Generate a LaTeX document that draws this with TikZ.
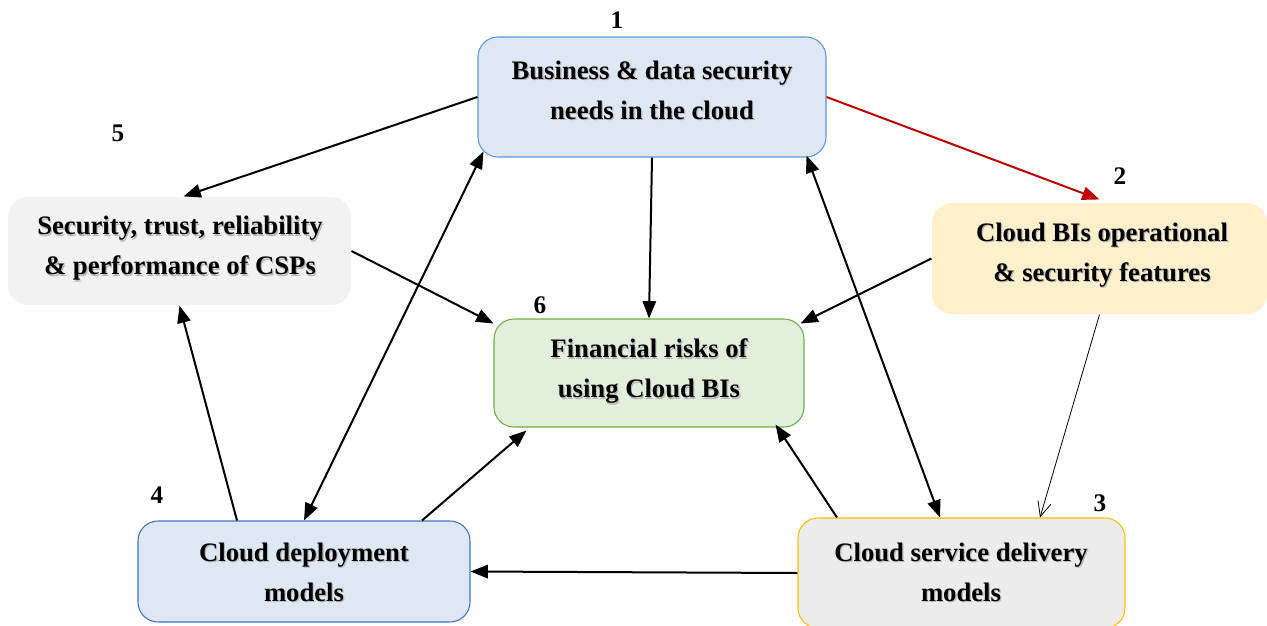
\documentclass[tikz,border=0pt]{standalone}
\usepackage{fontspec}
\setmainfont{Liberation Serif}
\usetikzlibrary{arrows.meta}

\definecolor{fillblue}{HTML}{DEE8F4}
\definecolor{lineblue}{HTML}{5B9BD5}
\definecolor{lineblueb}{HTML}{4472C4}
\definecolor{fillyellow}{HTML}{FFF0CC}
\definecolor{fillgreyA}{HTML}{F2F2F2}
\definecolor{fillgreyB}{HTML}{ECECEC}
\definecolor{lineorange}{HTML}{FFC000}
\definecolor{fillgreen}{HTML}{E2EFDA}
\definecolor{linegreen}{HTML}{70AD47}
\definecolor{arrowred}{HTML}{C00000}

% text with a soft grey drop shadow
\newcommand{\shd}[1]{\leavevmode\rlap{\kern0.9pt\raisebox{-0.9pt}{\textcolor{black!28}{#1}}}#1}

\begin{document}
\begin{tikzpicture}[x=0.75pt,y=-0.75pt,
  box/.style={rounded corners=15pt, inner sep=0pt, line width=0.8pt},
  txt/.style={align=center, inner sep=0pt, font=\fontsize{20}{30}\selectfont\bfseries},
  num/.style={inner sep=0pt, font=\fontsize{19}{20}\selectfont\bfseries},
  tip/.tip={Triangle[length=13pt,width=10pt]},
  conn/.style={line width=1.5pt, -tip},
  both/.style={line width=1.5pt, tip-tip},
  thin/.style={line width=0.6pt, -{Straight Barb[length=11pt,width=10pt]}}
]
\useasboundingbox (0,0) rectangle (1267,625);

% boxes
\node[box, fill=fillblue, draw=lineblue, minimum width=261pt, minimum height=90pt] (n1) at (652,97) {};
\node[box, fill=fillyellow, minimum width=251.25pt, minimum height=83.25pt] (n2) at (1099.5,258.5) {};
\node[box, fill=fillgreyB, draw=lineorange, minimum width=245.25pt, minimum height=82.5pt] (n3) at (961.5,573) {};
\node[box, fill=fillblue, draw=lineblueb, minimum width=249pt, minimum height=75.75pt] (n4) at (304,571.5) {};
\node[box, fill=fillgreyA, minimum width=257.25pt, minimum height=81pt] (n5) at (179.5,251) {};
\node[box, fill=fillgreen, draw=linegreen, minimum width=232.5pt, minimum height=81pt] (n6) at (649,373) {};

% box texts
\node[txt] (t1) at (652,91) {\shd{Business \& data security}\\\shd{needs in the cloud}};
\node[txt] (t2) at (1102,256) {\shd{Cloud BIs operational}\\\shd{\& security features}};
\node[txt] (t3) at (961,573) {\shd{Cloud service delivery}\\\shd{models}};
\node[txt] (t4) at (304,573) {\shd{Cloud deployment}\\\shd{models}};
\node[txt] (t5) at (180,249) {\shd{Security, trust, reliability}\\\shd{\& performance of CSPs}};
\node[txt] (t6) at (649,372) {\shd{Financial risks of}\\\shd{using Cloud BIs}};

% numbers
\node[num] (k1) at (617,20) {1};
\node[num] (k2) at (1120,176) {2};
\node[num] (k3) at (1100,503) {3};
\node[num] (k4) at (157,495) {4};
\node[num] (k5) at (118,133) {5};
\node[num] (k6) at (540,305) {6};

% connectors
\draw[conn] (n1.west) -- ([shift={(4,0)}]n5.north);
\draw[conn, draw=arrowred, fill=arrowred] (n1.east) -- ([shift={(0,-3)}]n2.north);
\draw[conn] (n1.south) -- (n6.north);
\draw[conn] (n5.east) -- ([shift={(0,5)}]n6.north west);
\draw[conn] (n2.west) -- ([shift={(-4,5)}]n6.north east);
\draw[thin] (n2.south) -- ([shift={(78.5,0)}]n3.north);
\draw[conn] ([shift={(-67,0)}]n4.north) -- (n5.south);
\draw[both] (n4.north) -- ([shift={(6,-6)}]n1.south west);
\draw[conn] ([shift={(118,0)}]n4.north) -- ([shift={(33,3)}]n6.south west);
\draw[conn] ([shift={(-124.5,0)}]n3.north) -- ([shift={(-29,-3)}]n6.south east);
\draw[both] ([shift={(-21.5,0)}]n3.north) -- ([shift={(-20,-2)}]n1.south east);
\draw[conn] (n3.west) -- (n4.east);
\end{tikzpicture}
\end{document}
